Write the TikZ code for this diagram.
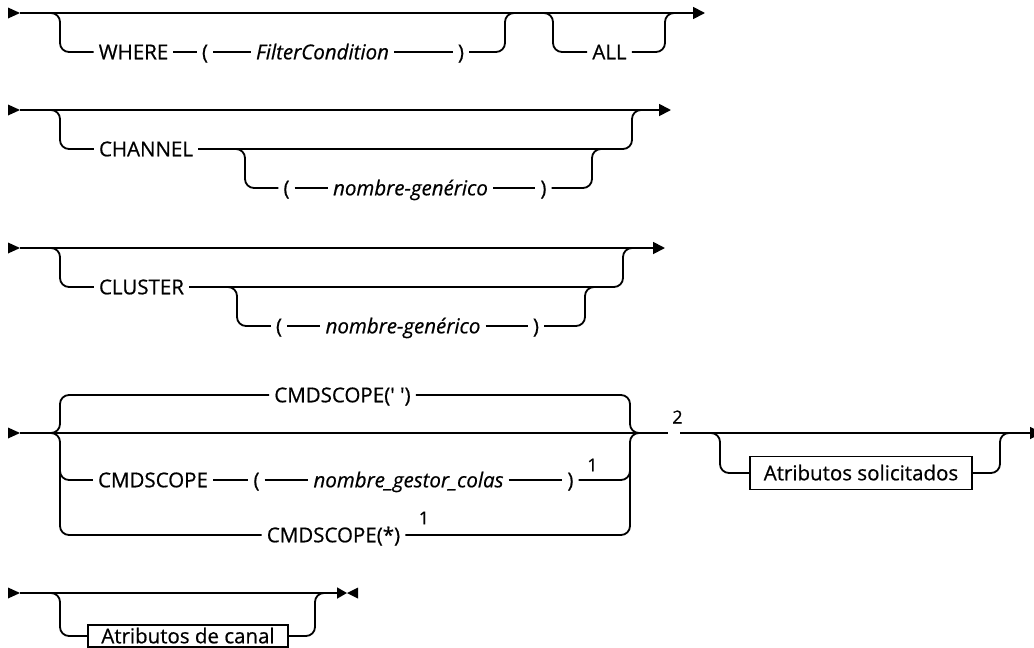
\documentclass[tikz,border=0pt]{standalone}
\usepackage{fontspec}
\setmainfont{Open Sans}[FakeBold=0.6]
\usetikzlibrary{arrows.meta}

\begin{document}
\begin{tikzpicture}[x=1pt,y=-1pt,
	rail/.style={line width=1.8pt, rounded corners=9pt},
	endtip/.style={-{Triangle[length=12pt,width=12pt]}},
	kw/.style={font=\fontsize{20.5}{24}\selectfont, inner xsep=5pt, inner ysep=0pt, text height=14.6pt, text depth=0pt},
	var/.style={kw, font=\fontsize{20.5}{24}\selectfont\itshape},
	note/.style={font=\fontsize{18}{20}\selectfont, inner sep=0pt},
	frag/.style={kw, draw, line width=1.5pt, inner ysep=9pt, inner xsep=8pt}]
	\useasboundingbox (0,0) rectangle (1034,648);
	% WHERE / ALL
	\coordinate (s1) at (20,13);
	\coordinate (e1) at (705,13);
	\coordinate (m1) at (517,13);
	\coordinate (a1) at (541,13);
	\coordinate (m2) at (677,13);
	\fill (s1) -- ++(-12,-5.5) -- ++(0,11) -- cycle;
	\draw[rail,endtip] (s1) -- (e1);
	\node[kw] (where) at (133.5,52) {WHERE};
	\node[kw] (lp1) at (205,52) {(};
	\node[var] (filt) at (322.5,52) {FilterCondition};
	\node[kw] (rp1) at (461,52) {)};
	\node[kw] (all) at (609.5,52) {ALL};
	\draw[rail] (s1) ++(28,0) -- ++(12,0) |- (where.west);
	\draw[rail] (where) -- (lp1) -- (filt) -- (rp1);
	\draw[rail] (rp1.east) -| ([xshift=-12pt]m1) -- (m1);
	\draw[rail] (a1) -- ++(12,0) |- (all.west);
	\draw[rail] (all.east) -| ([xshift=-12pt]m2) -- (m2);
	% CHANNEL
	\coordinate (s2) at (20,110);
	\coordinate (e2) at (671,110);
	\coordinate (m3) at (644,110);
	\coordinate (b2) at (233,149);
	\coordinate (m4) at (604,149);
	\fill (s2) -- ++(-12,-5.5) -- ++(0,11) -- cycle;
	\draw[rail,endtip] (s2) -- (e2);
	\node[kw] (chan) at (146,149) {CHANNEL};
	\node[kw] (lp2) at (286.5,188) {(};
	\node[var] (gen2) at (410.5,188) {nombre-genérico};
	\node[kw] (rp2) at (543.5,188) {)};
	\draw[rail] (s2) ++(28,0) -- ++(12,0) |- (chan.west);
	\draw[rail] (chan.east) -| ([xshift=-12pt]m3) -- (m3);
	\draw[rail] (b2) -- ++(12,0) |- (lp2.west);
	\draw[rail] (lp2) -- (gen2) -- (rp2);
	\draw[rail] (rp2.east) -| ([xshift=-12pt]m4) -- (m4);
	% CLUSTER
	\coordinate (s3) at (20,248);
	\coordinate (e3) at (665,248);
	\coordinate (m5) at (635,248);
	\coordinate (b3) at (225,287);
	\coordinate (m6) at (597,287);
	\fill (s3) -- ++(-12,-5.5) -- ++(0,11) -- cycle;
	\draw[rail,endtip] (s3) -- (e3);
	\node[kw] (clus) at (141.5,287) {CLUSTER};
	\node[kw] (lp3) at (279,326) {(};
	\node[var] (gen3) at (403,326) {nombre-genérico};
	\node[kw] (rp3) at (536,326) {)};
	\draw[rail] (s3) ++(28,0) -- ++(12,0) |- (clus.west);
	\draw[rail] (clus.east) -| ([xshift=-12pt]m5) -- (m5);
	\draw[rail] (b3) -- ++(12,0) |- (lp3.west);
	\draw[rail] (lp3) -- (gen3) -- (rp3);
	\draw[rail] (rp3.east) -| ([xshift=-12pt]m6) -- (m6);
	% CMDSCOPE
	\coordinate (s4) at (20,433);
	\coordinate (g4) at (668,433);
	\coordinate (h4) at (680,433);
	\coordinate (e4) at (1042,433);
	\coordinate (L4) at (48,433);
	\coordinate (R4) at (642,433);
	\coordinate (R5) at (1012,433);
	\fill (s4) -- ++(-12,-5.5) -- ++(0,11) -- cycle;
	\draw[rail] (s4) -- (g4);
	\draw[rail,endtip] (h4) -- (e4);
	\node[kw] (cq) at (342.5,395) {CMDSCOPE(\textquotesingle\ \textquotesingle)};
	\node[kw] (cm) at (153,480) {CMDSCOPE};
	\node[kw] (lp4) at (256.5,480) {(};
	\node[var] (gsc) at (408.5,480) {nombre\_gestor\_colas};
	\node[kw] (rp4) at (570.5,480) {)};
	\node[kw] (cs) at (333.5,535) {CMDSCOPE(*)};
	\node[note] (n1a) at (592.5,465) {1};
	\node[note] (n1b) at (424,518) {1};
	\node[note] (n2) at (677.5,417) {2};
	\draw[rail] (L4) -- ++(12,0) |- (cq.west);
	\draw[rail] (L4) -- ++(12,0) |- (cs.west);
	\draw[rail] (L4) ++(12,20) |- (cm.west);
	\draw[rail] (cm) -- (lp4) -- (gsc) -- (rp4);
	\draw[rail] (cq.east) -| ([xshift=-12pt]R4) -- (R4);
	\draw[rail] (cs.east) -| ([xshift=-12pt]R4) -- (R4);
	\draw[rail] (rp4.east) -| ([xshift=-12pt,yshift=-20pt]R4);
	\node[frag, minimum width=222pt] (atr) at (861,473) {Atributos solicitados};
	\draw[rail] (h4) ++(28,0) -- ++(12,0) |- (atr.west);
	\draw[rail] (atr.east) -| ([xshift=-12pt]R5) -- (R5);
	% canal
	\coordinate (s5) at (20,593);
	\coordinate (t5) at (347,593);
	\coordinate (R6) at (327,593);
	\fill (s5) -- ++(-12,-5.5) -- ++(0,11) -- cycle;
	\draw[rail,-{Triangle[length=10pt,width=11pt]}] (s5) -- (t5);
	\fill (t5) -- ++(11,-5.5) -- ++(0,11) -- cycle;
	\node[frag, inner ysep=3.9pt, minimum width=200pt] (can) at (188,636) {Atributos de canal};
	\draw[rail] (s5) ++(28,0) -- ++(12,0) |- (can.west);
	\draw[rail] (can.east) -| ([xshift=-12pt]R6) -- (R6);
\end{tikzpicture}
\end{document}
